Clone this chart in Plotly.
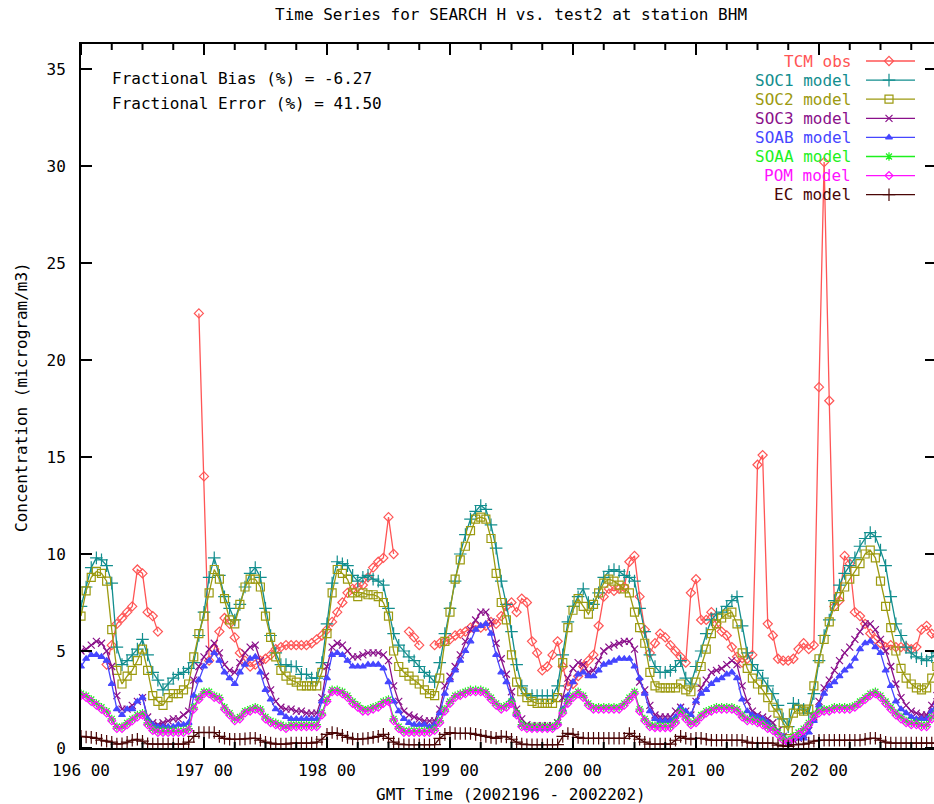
import plotly.graph_objects as go

# ---------------- data (hourly, 2002 day 196 00h .. day 202 23h) ----------------
series_names = ["TCM obs", "SOC1 model", "SOC2 model", "SOC3 model",
                "SOAB model", "SOAA model", "POM model", "EC model"]

tcm_obs = [None, None, None, None, None, 4.3, 5.3, 6.4, 6.7, 7.0, 7.3, 9.2, 9.0, 7.0, 6.8, 6.0, None, None, None, None, None, None, None, 22.4,
           14.0, 4.5, 5.1, 6.0, 6.7, 6.4, 5.7, 4.9, 4.5, 4.2, 4.3, 4.5, 4.6, 4.8, 5.1, 5.2, 5.3, 5.3, 5.3, 5.3, 5.3, 5.4, 5.6, 5.8,
           6.1, 6.5, 7.0, 7.5, 8.0, 8.2, 8.3, 8.4, 8.8, 9.3, 9.6, 9.8, 11.9, 10.0, None, None, 6.0, 5.7, 5.3, None, None, 5.3, 5.4, 5.5,
           5.6, 5.8, 5.9, 6.0, 6.2, 6.3, 6.2, 6.3, 6.5, 6.4, 6.8, 7.3, 7.5, 7.0, 7.7, 7.5, 5.5, 4.9, 4.0, 4.2, 4.8, 5.5, 4.2, 3.2,
           3.3, 3.7, 4.2, 4.5, 4.8, 6.3, 7.8, 8.2, 8.1, 8.2, 8.3, 9.6, 9.9, 7.8, 6.1, 4.9, 5.4, 5.9, 5.7, 5.3, 5.0, 4.7, 4.4, 8.0,
           8.7, 6.6, 6.6, 7.0, 6.4, 6.0, 5.8, 5.2, 4.7, 4.4, 4.6, 4.8, 14.6, 15.1, 6.4, 5.8, 4.6, 4.5, 4.5, 4.6, 5.1, 5.4, 5.1, 5.3,
           18.6, 30.2, 17.9, 7.3, 7.6, 9.9, 9.5, 7.0, 6.8, 6.4, 5.9, 5.6, 5.4, 5.2, 5.3, 5.2, 5.2, 5.2, 5.1, 5.2, 6.1, 6.3, 5.9, 5.8]

soc1 = [7.3, 8.3, 9.3, 9.8, 9.7, 9.4, 8.5, 5.2, 4.3, 4.5, 4.8, 5.1, 5.6, 4.8, 3.9, 3.5, 3.0, 3.3, 3.6, 3.8, 3.9, 4.1, 4.4, 5.8,
        7.0, 8.8, 9.8, 8.9, 7.8, 7.2, 6.6, 7.4, 8.3, 9.0, 9.3, 8.8, 7.2, 5.8, 4.9, 4.3, 4.3, 4.2, 4.2, 3.8, 3.8, 3.6, 3.6, 4.4,
        6.4, 8.5, 9.6, 9.5, 9.4, 8.9, 8.6, 8.8, 8.9, 8.7, 8.6, 8.4, 7.2, 5.9, 5.3, 5.0, 4.7, 4.5, 4.2, 3.9, 3.7, 3.4, 4.4, 5.9,
        7.2, 8.6, 10.0, 11.0, 11.8, 12.2, 12.5, 12.3, 11.5, 10.3, 8.6, 7.4, 6.0, 4.3, 3.2, 2.8, 2.7, 2.7, 2.7, 2.7, 2.7, 3.2, 4.8, 6.5,
        7.3, 7.8, 8.2, 7.5, 7.4, 8.0, 8.8, 9.1, 9.2, 9.1, 8.9, 8.8, 8.6, 7.2, 6.0, 4.8, 4.2, 3.9, 3.9, 4.0, 4.2, 4.5, 3.6, 3.3,
        4.2, 5.0, 5.9, 6.6, 6.9, 7.0, 7.3, 7.6, 7.8, 6.3, 4.9, 4.3, 4.0, 3.6, 3.2, 2.8, 2.2, 1.5, 1.1, 2.3, 2.2, 2.0, 1.8, 2.8,
        4.5, 5.8, 6.6, 7.6, 8.4, 9.0, 9.4, 9.8, 10.4, 10.8, 11.1, 10.9, 10.2, 9.4, 7.8, 6.4, 5.8, 5.2, 4.9, 4.7, 4.6, 4.5, 4.7, 4.9]

soc2 = [6.8, 8.1, 8.8, 9.1, 9.0, 8.6, 6.1, 4.0, 3.3, 3.7, 4.0, 4.5, 5.1, 4.0, 2.7, 2.4, 2.2, 2.6, 2.8, 2.8, 3.0, 3.3, 4.7, 5.9,
        6.8, 8.0, 9.2, 8.7, 7.7, 6.6, 6.4, 7.4, 8.3, 8.7, 8.7, 8.3, 6.8, 5.7, 4.7, 4.0, 3.7, 3.5, 3.4, 3.2, 3.2, 3.2, 3.2, 3.9,
        5.9, 8.0, 9.2, 9.0, 8.7, 8.0, 7.8, 8.0, 7.9, 7.9, 7.8, 7.5, 6.8, 5.0, 4.2, 3.9, 3.7, 3.5, 3.3, 3.0, 2.8, 2.7, 3.6, 5.5,
        7.0, 8.7, 9.7, 10.4, 11.2, 11.8, 11.9, 11.8, 10.8, 9.0, 7.5, 6.6, 4.8, 3.4, 2.9, 2.6, 2.4, 2.3, 2.3, 2.3, 2.3, 2.6, 4.4, 6.2,
        7.1, 7.7, 7.3, 6.9, 7.4, 8.0, 8.5, 8.7, 8.6, 8.4, 8.2, 8.0, 7.0, 6.2, 5.4, 3.9, 3.2, 3.1, 3.1, 3.1, 3.1, 3.3, 3.0, 2.9,
        3.4, 4.2, 5.1, 5.9, 6.4, 6.7, 6.9, 7.0, 6.4, 4.9, 4.1, 3.6, 3.3, 3.0, 2.6, 2.1, 1.8, 1.3, 0.9, 1.8, 2.0, 1.9, 2.0, 3.2,
        4.6, 5.6, 6.5, 7.3, 7.8, 8.3, 8.7, 9.1, 9.5, 10.0, 10.2, 9.8, 8.6, 7.3, 6.2, 5.0, 4.1, 3.6, 3.3, 3.1, 3.0, 3.1, 3.6, 4.2]

soc3 = [5.0, 5.1, 5.3, 5.5, 5.4, 5.0, 4.2, 2.7, 2.0, 2.0, 2.2, 2.4, 2.6, 1.6, 1.3, 1.2, 1.3, 1.4, 1.5, 1.5, 1.7, 1.9, 3.5, 4.2,
        4.7, 5.1, 5.4, 4.9, 4.3, 4.0, 3.9, 4.4, 4.9, 5.2, 5.3, 4.5, 3.7, 3.0, 2.4, 2.1, 2.0, 2.0, 1.9, 1.9, 1.8, 1.8, 1.8, 2.6,
        4.2, 5.2, 5.4, 5.3, 5.0, 4.7, 4.7, 4.8, 4.9, 4.9, 4.9, 4.8, 4.5, 3.2, 2.4, 1.9, 1.7, 1.6, 1.5, 1.4, 1.4, 1.4, 2.0, 3.2,
        3.7, 4.2, 4.8, 5.5, 6.1, 6.6, 7.0, 7.0, 6.5, 5.4, 4.6, 3.8, 2.9, 2.0, 1.5, 1.2, 1.15, 1.15, 1.15, 1.15, 1.15, 1.3, 2.6, 3.6,
        4.1, 4.4, 4.3, 3.9, 4.0, 4.5, 5.0, 5.2, 5.3, 5.4, 5.5, 5.5, 5.1, 3.4, 3.0, 2.2, 1.7, 1.6, 1.6, 1.6, 1.9, 2.1, 1.9, 1.7,
        2.4, 3.1, 3.5, 3.9, 4.0, 4.1, 4.3, 4.5, 4.3, 3.2, 2.4, 1.9, 1.7, 1.6, 1.5, 1.3, 0.9, 0.6, 0.3, 0.4, 0.5, 0.7, 0.9, 1.6,
        2.4, 3.1, 3.5, 4.0, 4.5, 4.9, 5.2, 5.6, 6.0, 6.4, 6.4, 6.1, 5.6, 5.0, 4.2, 3.3, 2.6, 2.2, 1.9, 1.8, 1.7, 1.7, 2.2, 2.7]

soab = [4.2, 4.6, 4.8, 4.8, 4.7, 4.5, 3.3, 2.0, 1.7, 2.0, 2.0, 2.4, 2.6, 1.5, 1.2, 1.1, 1.1, 1.1, 1.1, 1.2, 1.2, 1.3, 2.7, 3.5,
        4.2, 4.5, 4.9, 4.5, 3.9, 3.6, 3.3, 3.9, 4.3, 4.6, 4.7, 3.9, 3.0, 2.5, 2.0, 1.8, 1.6, 1.5, 1.5, 1.5, 1.5, 1.5, 1.5, 2.4,
        3.6, 4.8, 4.9, 4.8, 4.5, 4.2, 4.2, 4.2, 4.3, 4.3, 4.3, 4.1, 3.4, 2.4, 1.9, 1.5, 1.3, 1.2, 1.2, 1.2, 1.1, 1.2, 1.8, 2.8,
        3.5, 4.0, 4.5, 5.0, 5.5, 6.1, 6.3, 6.4, 5.9, 4.8, 3.9, 3.4, 2.5, 1.7, 1.2, 1.05, 1.0, 1.0, 1.0, 1.0, 1.05, 1.3, 2.0, 2.7,
        3.4, 3.8, 3.9, 3.7, 3.7, 4.0, 4.3, 4.4, 4.5, 4.6, 4.6, 4.6, 4.2, 3.6, 2.8, 1.9, 1.5, 1.4, 1.4, 1.4, 1.6, 2.1, 1.9, 1.7,
        2.4, 2.8, 3.0, 3.3, 3.5, 3.6, 3.8, 3.9, 3.6, 2.5, 1.9, 1.7, 1.6, 1.5, 1.3, 1.0, 0.8, 0.6, 0.3, 0.5, 0.5, 0.5, 0.8, 1.4,
        2.2, 2.8, 3.2, 3.4, 3.7, 4.0, 4.2, 4.6, 5.1, 5.4, 5.5, 5.2, 4.9, 4.0, 3.2, 2.4, 2.0, 1.8, 1.6, 1.5, 1.5, 1.5, 1.9, 2.3]

soaa = [2.8, 2.7, 2.5, 2.3, 2.1, 1.9, 1.5, 1.1, 1.1, 1.3, 1.5, 1.7, 1.8, 1.3, 1.0, 0.9, 0.9, 0.9, 0.9, 0.9, 0.9, 1.0, 2.1, 2.6,
        2.9, 2.9, 2.7, 2.6, 2.1, 1.8, 1.5, 1.6, 1.9, 2.0, 2.1, 2.0, 1.6, 1.4, 1.3, 1.2, 1.1, 1.2, 1.2, 1.2, 1.2, 1.2, 1.2, 1.8,
        2.5, 3.0, 3.0, 2.9, 2.7, 2.4, 2.2, 2.0, 2.0, 2.1, 2.2, 2.4, 2.5, 1.5, 1.1, 0.9, 0.9, 0.9, 0.9, 0.9, 0.9, 1.0, 1.4, 2.0,
        2.4, 2.7, 2.8, 2.9, 3.0, 3.0, 3.0, 2.9, 2.6, 2.3, 2.1, 2.2, 2.4, 1.8, 1.2, 1.1, 1.1, 1.1, 1.1, 1.1, 1.1, 1.3, 1.9, 2.4,
        2.7, 2.9, 2.7, 2.3, 2.1, 2.1, 2.1, 2.1, 2.1, 2.1, 2.3, 2.6, 2.9, 2.0, 1.5, 1.2, 1.15, 1.15, 1.15, 1.15, 1.4, 1.9, 1.6, 1.3,
        1.4, 1.7, 1.9, 2.0, 2.1, 2.1, 2.1, 2.1, 2.0, 1.7, 1.5, 1.5, 1.4, 1.3, 1.1, 1.0, 0.8, 0.5, 0.4, 0.6, 0.8, 1.0, 1.3, 1.7,
        1.9, 2.0, 2.0, 2.1, 2.1, 2.1, 2.1, 2.2, 2.4, 2.6, 2.8, 2.9, 2.7, 2.4, 2.1, 1.8, 1.6, 1.4, 1.3, 1.3, 1.2, 1.2, 1.6, 1.9]

pom = [2.7, 2.6, 2.4, 2.2, 2.0, 1.8, 1.4, 1.0, 1.0, 1.2, 1.4, 1.6, 1.7, 1.2, 0.9, 0.8, 0.8, 0.8, 0.8, 0.8, 0.8, 0.9, 2.0, 2.5,
       2.8, 2.8, 2.6, 2.5, 2.0, 1.7, 1.4, 1.5, 1.8, 1.9, 2.0, 1.9, 1.5, 1.3, 1.2, 1.1, 1.0, 1.1, 1.1, 1.1, 1.1, 1.1, 1.1, 1.7,
       2.4, 2.9, 2.9, 2.8, 2.6, 2.3, 2.1, 1.9, 1.9, 2.0, 2.1, 2.3, 2.4, 1.4, 1.0, 0.8, 0.8, 0.8, 0.8, 0.8, 0.8, 0.9, 1.3, 1.9,
       2.3, 2.6, 2.7, 2.8, 2.9, 2.9, 2.9, 2.8, 2.5, 2.2, 2.0, 2.1, 2.3, 1.7, 1.1, 1.0, 1.0, 1.0, 1.0, 1.0, 1.0, 1.2, 1.8, 2.3,
       2.6, 2.8, 2.6, 2.2, 2.0, 2.0, 2.0, 2.0, 2.0, 2.0, 2.2, 2.5, 2.8, 1.9, 1.4, 1.1, 1.05, 1.05, 1.05, 1.05, 1.3, 1.8, 1.5, 1.2,
       1.3, 1.6, 1.8, 1.9, 2.0, 2.0, 2.0, 2.0, 1.9, 1.6, 1.4, 1.4, 1.3, 1.2, 1.0, 0.9, 0.7, 0.4, 0.3, 0.5, 0.7, 0.9, 1.2, 1.6,
       1.8, 1.9, 1.9, 2.0, 2.0, 2.0, 2.0, 2.1, 2.3, 2.5, 2.7, 2.8, 2.6, 2.3, 2.0, 1.7, 1.5, 1.3, 1.2, 1.2, 1.1, 1.1, 1.5, 1.8]

ec = [0.6, 0.57, 0.55, 0.5, 0.4, 0.35, 0.3, 0.2, 0.22, 0.3, 0.4, 0.45, 0.35, 0.22, 0.2, 0.2, 0.2, 0.2, 0.2, 0.2, 0.2, 0.3, 0.6, 0.8,
      0.8, 0.8, 0.8, 0.6, 0.5, 0.45, 0.45, 0.45, 0.47, 0.5, 0.5, 0.4, 0.3, 0.25, 0.2, 0.2, 0.2, 0.25, 0.25, 0.25, 0.25, 0.25, 0.3, 0.45,
      0.7, 0.8, 0.75, 0.65, 0.55, 0.47, 0.45, 0.47, 0.5, 0.55, 0.6, 0.7, 0.5, 0.3, 0.2, 0.17, 0.17, 0.17, 0.17, 0.17, 0.17, 0.17, 0.5, 0.7,
      0.8, 0.75, 0.75, 0.75, 0.75, 0.7, 0.65, 0.6, 0.55, 0.5, 0.6, 0.57, 0.45, 0.3, 0.2, 0.17, 0.17, 0.17, 0.17, 0.17, 0.17, 0.17, 0.6, 0.75,
      0.7, 0.55, 0.5, 0.5, 0.5, 0.5, 0.5, 0.5, 0.5, 0.5, 0.5, 0.75, 0.6, 0.45, 0.3, 0.2, 0.2, 0.2, 0.2, 0.2, 0.4, 0.6, 0.5, 0.45,
      0.5, 0.5, 0.45, 0.4, 0.4, 0.4, 0.4, 0.4, 0.4, 0.4, 0.3, 0.25, 0.25, 0.25, 0.25, 0.25, 0.15, 0.1, 0.08, 0.17, 0.17, 0.2, 0.25, 0.35,
      0.4, 0.4, 0.4, 0.4, 0.4, 0.4, 0.4, 0.4, 0.4, 0.45, 0.5, 0.5, 0.4, 0.3, 0.25, 0.25, 0.25, 0.25, 0.25, 0.25, 0.25, 0.25, 0.25, 0.25]

x_tick_vals = [196, 197, 198, 199, 200, 201, 202]
x_tick_text = ["196 00", "197 00", "198 00", "199 00", "200 00", "201 00", "202 00"]
y_tick_vals = [0, 5, 10, 15, 20, 25, 30, 35]

fb_text = "Fractional Bias (%) = -6.27"
fe_text = "Fractional Error (%) = 41.50"
title_text = "Time Series for SEARCH H vs. test2 at station BHM"
x_title = "GMT Time (2002196 - 2002202)"
y_title = "Concentration (microgram/m3)"

# ---------------- styles ----------------
FONT = "DejaVu Sans Mono"
colors = ["#ff5555", "#128e8e", "#9c9a10", "#8a108a", "#4646ff", "#1ef01e", "#ff10ff", "#4a0606"]
symbols = ["diamond-open", "cross-thin", "square-open", "x-thin",
           "triangle-up", "asterisk-open", "diamond-open", "cross-thin"]
sizes = [7, 9, 8, 7, 6, 7, 6, 9]
data_list = [tcm_obs, soc1, soc2, soc3, soab, soaa, pom, ec]

# plot-area pixel geometry (934 x 804 page)
L, R, T, B = 81, 934, 44, 748
PX_PER_DAY, PX_PER_UNIT = 123.0, 19.4
X0, X1 = 196.0, 196.0 + (R - L) / PX_PER_DAY
Y0, Y1 = 0.0, (B - T) / PX_PER_UNIT

fig = go.Figure()
for name, vals, c, s, sz in zip(series_names, data_list, colors, symbols, sizes):
    xs = [196 + h / 24.0 for h in range(len(vals))]
    fig.add_trace(go.Scatter(
        x=xs, y=vals, mode="lines+markers", name=name, showlegend=False,
        connectgaps=False,
        line=dict(color=c, width=1.3),
        marker=dict(symbol=s, size=sz, color=c, line=dict(color=c, width=1.2)),
        xaxis="x", yaxis="y"))

# ---- gnuplot-style inward tick marks on all four borders, drawn in the pixel overlay ----
def xpix(v):
    return L + (v - X0) * PX_PER_DAY

def ypix(v):
    return B - (v - Y0) * PX_PER_UNIT

tx, ty = [], []
for v in y_tick_vals:
    yy = ypix(v)
    tx += [L, L + 11, None, R - 9, R, None]
    ty += [yy, yy, None, yy, yy, None]
for k in range(int((X1 - X0) * 4) + 1):
    xx = xpix(X0 + k * 0.25)
    ln = 11 if k % 4 == 0 else 6
    tx += [xx, xx, None, xx, xx, None]
    ty += [B, B - ln, None, T, T + ln, None]
fig.add_trace(go.Scatter(x=tx, y=ty, mode="lines", showlegend=False, hoverinfo="skip",
                         line=dict(color="#000000", width=2), connectgaps=False,
                         xaxis="x2", yaxis="y2"))

# custom gnuplot-like key (pixel coordinate overlay axes)
key_y0, key_dy = 61, 19.1
annotations = []
for i, (name, c, s, sz) in enumerate(zip(series_names, colors, symbols, sizes)):
    ky = key_y0 + i * key_dy
    fig.add_trace(go.Scatter(x=[866, 915], y=[ky, ky], mode="lines", showlegend=False,
                             line=dict(color=c, width=1.3), xaxis="x2", yaxis="y2", hoverinfo="skip"))
    fig.add_trace(go.Scatter(x=[889], y=[ky], mode="markers", showlegend=False,
                             marker=dict(symbol=s, size=sz, color=c, line=dict(color=c, width=1.2)),
                             xaxis="x2", yaxis="y2", hoverinfo="skip"))
    annotations.append(dict(x=853, y=ky, xref="x2", yref="y2", text=name, showarrow=False,
                            xanchor="right", yanchor="middle",
                            font=dict(family=FONT, size=16, color=c)))

def px(xp):
    return (xp - L) / (R - L)

def py(yp):
    return (B - yp) / (B - T)

annotations += [
    dict(x=px(110), y=py(79), xref="paper", yref="paper", text=fb_text, showarrow=False,
         xanchor="left", yanchor="middle", font=dict(family=FONT, size=16, color="black")),
    dict(x=px(110), y=py(104), xref="paper", yref="paper", text=fe_text, showarrow=False,
         xanchor="left", yanchor="middle", font=dict(family=FONT, size=16, color="black")),
    dict(x=px(511), y=py(795), xref="paper", yref="paper", text=x_title, showarrow=False,
         xanchor="center", yanchor="middle", font=dict(family=FONT, size=16, color="black")),
    dict(x=px(21), y=py(397), xref="paper", yref="paper", text=y_title, showarrow=False,
         textangle=-90, xanchor="center", yanchor="middle",
         font=dict(family=FONT, size=16, color="black")),
    dict(x=px(511), y=py(15), xref="paper", yref="paper", text=title_text, showarrow=False,
         xanchor="center", yanchor="middle", font=dict(family=FONT, size=16, color="black")),
]

fig.update_layout(
    width=934, height=804,
    margin=dict(l=L, r=934 - R, t=T, b=804 - B, pad=0),
    paper_bgcolor="white", plot_bgcolor="white",
    showlegend=False,
    font=dict(family=FONT, size=16, color="black"),
    xaxis=dict(range=[X0, X1], tickvals=x_tick_vals, ticktext=x_tick_text,
               ticks="", showline=True, linecolor="black", linewidth=2, mirror=True,
               showgrid=False, zeroline=False, ticklabelstandoff=7,
               tickfont=dict(family=FONT, size=16, color="black")),
    yaxis=dict(range=[Y0, Y1], tickvals=y_tick_vals,
               ticks="", showline=True, linecolor="black", linewidth=2,
               showgrid=False, zeroline=False, ticklabelstandoff=10,
               tickfont=dict(family=FONT, size=16, color="black")),
    xaxis2=dict(range=[L, R], overlaying="x", visible=False, anchor="y2"),
    yaxis2=dict(range=[B, T], overlaying="y", visible=False, anchor="x2"),
    annotations=annotations,
)

fig.write_html("out.html")
